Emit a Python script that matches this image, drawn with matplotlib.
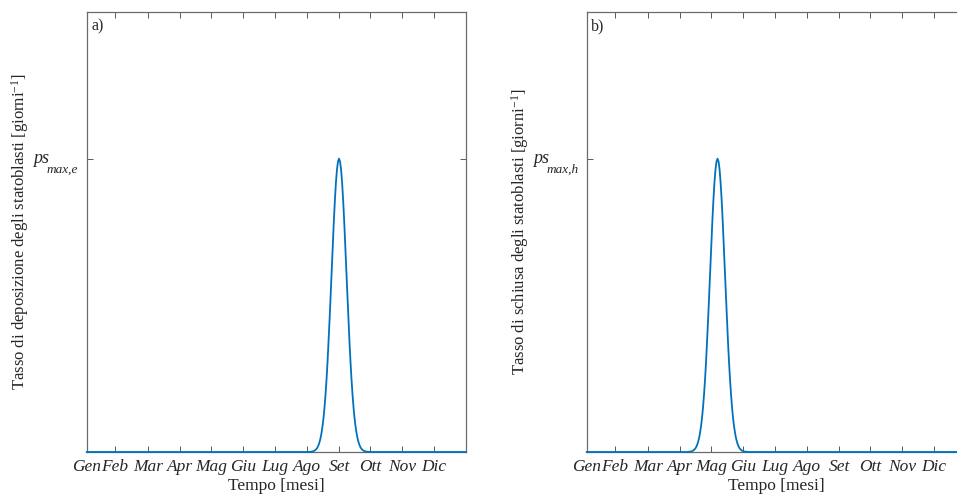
import matplotlib
matplotlib.use("Agg")
import matplotlib.pyplot as plt
from matplotlib.transforms import offset_copy
import numpy as np

plt.rcParams['font.family'] = ['Liberation Serif', 'DejaVu Serif']
plt.rcParams['mathtext.fontset'] = 'custom'
plt.rcParams['mathtext.rm'] = 'Liberation Serif'
plt.rcParams['mathtext.it'] = 'Liberation Serif:italic'
plt.rcParams['mathtext.bf'] = 'Liberation Serif:bold'

# month tick positions (day of year) and labels
mesi = ['Gen', 'Feb', 'Mar', 'Apr', 'Mag', 'Giu', 'Lug', 'Ago', 'Set', 'Ott', 'Nov', 'Dic']
tick_giorni = [1, 28, 60, 91, 121, 152, 182, 213, 244, 274, 305, 335]

# peak profile: relative height at 0, 1, 2, ... days from the peak
profilo = [1.0, 0.990, 0.962, 0.917, 0.857, 0.786, 0.707, 0.623, 0.540, 0.458,
           0.381, 0.311, 0.249, 0.196, 0.151, 0.114, 0.085, 0.062, 0.044, 0.031,
           0.021, 0.014, 0.0094, 0.0061, 0.0039, 0.0024, 0.0015, 0.0009, 0.0005, 0.0]

picco_deposizione = 244   # ~1 Set
picco_schiusa = 127       # ~7 Mag

pannelli = [
    ('a)', picco_deposizione, 'max,e',
     r'Tasso di deposizione degli statoblasti [giorni$^{-1}$]'),
    ('b)', picco_schiusa, 'max,h',
     r'Tasso di schiusa degli statoblasti [giorni$^{-1}$]'),
]


def serie(picco):
    giorni = np.arange(1, 367)
    valori = np.zeros(len(giorni))
    prof = np.array(profilo)
    full = np.concatenate([prof[:0:-1], prof])
    off = np.arange(-(len(prof) - 1), len(prof))
    for o, v in zip(off, full):
        valori[picco + o - 1] = v
    return giorni, valori


fig = plt.figure(figsize=(9.57, 4.99), dpi=100)
ax_pos = [[86.7 / 957, 0.0942, 379 / 957, 440 / 499],
          [586.7 / 957, 0.0942, 379 / 957, 440 / 499]]

for pos, (lettera, picco, pedice, ylab) in zip(ax_pos, pannelli):
    ax = fig.add_axes(pos)
    x, y = serie(picco)
    ax.plot(x, y, color='#0072BD', lw=1.3, clip_on=False, zorder=5)
    ax.set_xlim(1, 366)
    ax.set_ylim(0, 1.5)
    ax.set_xticks(tick_giorni)
    ax.set_xticklabels(mesi, fontstyle='italic', fontsize=12.5)
    ax.set_yticks([1])
    ax.set_yticklabels([''])
    ax.tick_params(direction='in', length=4, width=0.6, color='#404040',
                   top=True, right=True, labelcolor='#262626', pad=5)
    for s in ax.spines.values():
        s.set_color('#6a6a6a')
        s.set_linewidth(0.9)

    # y tick label ps_{max,x}, drawn in two pieces like the original
    tr = ax.get_yaxis_transform()
    ax.text(0, 1, 'ps', transform=offset_copy(tr, fig=fig, x=-53.7, y=-4.7, units='dots'),
            ha='left', va='baseline', fontsize=13, fontstyle='italic', color='#262626')
    ax.text(0, 1, pedice, transform=offset_copy(tr, fig=fig, x=-39.7, y=-13.7, units='dots'),
            ha='left', va='baseline', fontsize=9.5, fontstyle='italic', color='#262626')

    ax.set_xlabel('Tempo [mesi]', fontsize=12.5, color='#262626', labelpad=2)
    ax.set_ylabel(ylab, fontsize=12, color='#262626')
    ax.yaxis.set_label_coords(-0.146, 0.5)
    ax.text(0.012, 0.985, lettera, transform=ax.transAxes, ha='left', va='top',
            fontsize=11.5, color='#262626')

fig.savefig('out.png', dpi=100)
